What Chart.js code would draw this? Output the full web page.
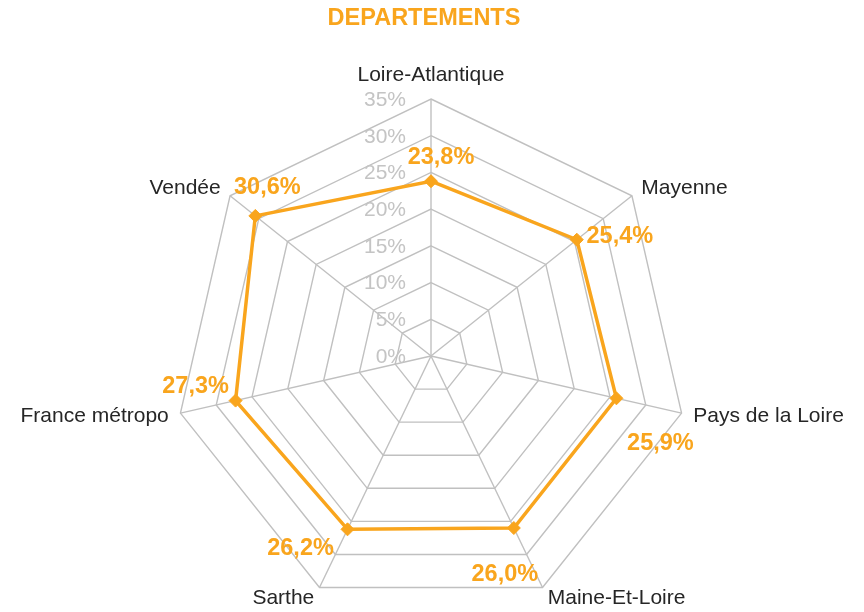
<!DOCTYPE html>
<html>
<head>
<meta charset="utf-8">
<script src="https://cdn.jsdelivr.net/npm/chart.js@4/dist/chart.umd.min.js"></script>
<style>
  html, body { margin: 0; padding: 0; background: #fff; overflow: hidden; }
  #wrap { width: 864px; height: 640px; }
</style>
</head>
<body>
<div id="wrap"><canvas id="radar" width="864" height="640"></canvas></div>
<script>
// Departements radar

const categories = ['Loire-Atlantique', 'Mayenne', 'Pays de la Loire', 'Maine-Et-Loire', 'Sarthe', 'France métropo', 'Vendée'];
const values = [23.8, 25.4, 25.9, 26.0, 26.2, 27.3, 30.6];
const tickValues = [0, 5, 10, 15, 20, 25, 30, 35];

const ORANGE = '#F9A51D';
const GRID = '#c0c0c0';
const FONT = '"Liberation Sans", Arial, sans-serif';

// label offsets from each point (Excel moved them by hand)
const labelOffsets = [[10, -24], [43, -3], [44, 45], [-9, 47], [-47, 19], [-40, -14], [12, -28]];

const fmt = v => v.toFixed(1).replace('.', ',') + '%';

const decorations = {
    id: 'decorations',
    afterDraw(chart) {
        const ctx = chart.ctx;
        const scale = chart.scales.r;
        ctx.save();

        // title
        ctx.font = 'bold 23.5px ' + FONT;
        ctx.fillStyle = ORANGE;
        ctx.textAlign = 'center';
        ctx.textBaseline = 'middle';
        ctx.fillText('DEPARTEMENTS', 424, 19);

        // tick labels, left of the vertical axis
        ctx.font = '21px ' + FONT;
        ctx.fillStyle = '#c4c4c4';
        ctx.textAlign = 'right';
        tickValues.forEach(t => {
            const y = scale.yCenter - scale.getDistanceFromCenterForValue(t);
            ctx.fillText(t + '%', scale.xCenter - 25, y + 1);
        });

        // category labels
        ctx.fillStyle = '#262626';
        categories.forEach((c, i) => {
            const p = scale.getPointPosition(i, scale.drawingArea + 12);
            const dx = p.x - scale.xCenter;
            ctx.textAlign = dx > 10 ? 'left' : dx < -10 ? 'right' : 'center';
            let y = p.y;
            if (i === 0) y -= 12;
            ctx.fillText(c, p.x, y);
        });

        // data labels
        ctx.font = 'bold 23.5px ' + FONT;
        ctx.fillStyle = ORANGE;
        ctx.textAlign = 'center';
        const meta = chart.getDatasetMeta(0);
        meta.data.forEach((pt, i) => {
            const o = labelOffsets[i];
            ctx.fillText(fmt(values[i]), pt.x + o[0], pt.y + o[1]);
        });
        ctx.restore();
    }
};

new Chart(document.getElementById('radar'), {
    type: 'radar',
    data: {
        labels: categories,
        datasets: [{
            label: 'Departements',
            data: values,
            borderColor: ORANGE,
            backgroundColor: 'rgba(0,0,0,0)',
            borderWidth: 3.5,
            pointStyle: 'rectRot',
            pointRadius: 6.5,
            pointBackgroundColor: ORANGE,
            pointBorderColor: ORANGE,
            pointBorderWidth: 1,
            fill: false,
            tension: 0
        }]
    },
    options: {
        responsive: false,
        animation: false,
        layout: { padding: { top: 99, bottom: 27, left: 174, right: 176 } },
        plugins: {
            legend: { display: false },
            title: { display: false },
            tooltip: { enabled: false }
        },
        scales: {
            r: {
                min: 0,
                max: 35,
                ticks: { display: false, stepSize: 5 },
                pointLabels: { display: false },
                grid: { color: GRID, lineWidth: 1.4, circular: false },
                angleLines: { color: GRID, lineWidth: 1.4 }
            }
        }
    },
    plugins: [decorations]
});
</script>
</body>
</html>
